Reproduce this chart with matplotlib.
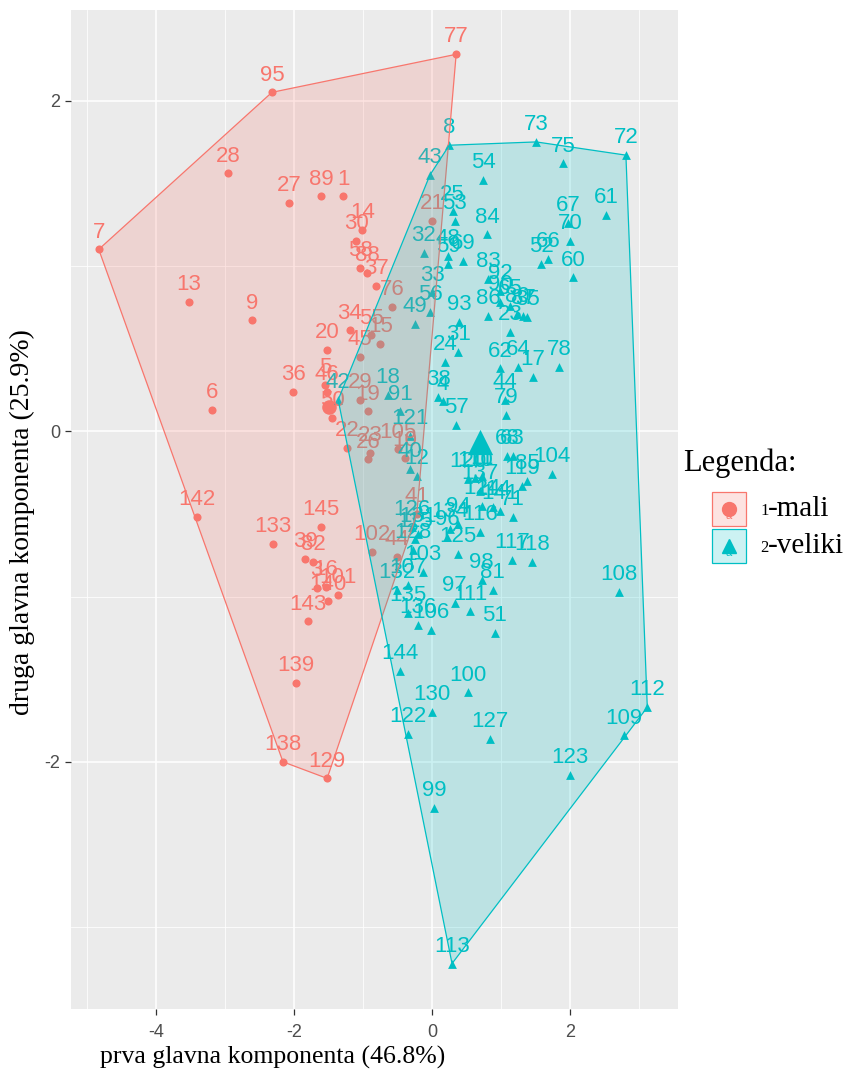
import matplotlib
matplotlib.use("Agg")
import matplotlib.pyplot as plt
import numpy as np
from matplotlib.patches import Polygon, Rectangle
from matplotlib.lines import Line2D

plt.rcParams["axes.unicode_minus"] = False

# PCA scores, group 1 (mali)
ids_mali = [1, 7, 13, 14, 30, 58, 88, 37, 76, 27, 28, 89, 95, 77, 9, 21, 34, 20, 55, 45,
            15, 6, 36, 5, 46, 50, 29, 19, 22, 23, 26, 105, 10, 41, 102, 44, 142, 133, 145, 39,
            82, 3, 16, 140, 101, 143, 139, 138, 129]
pc1_mali = [-1.29, -4.83, -3.52, -1.01, -1.10, -1.04, -0.94, -0.81, -0.58, -2.07, -2.96, -1.61, -2.32, 0.35, -2.61, 0.00, -1.19, -1.52, -0.88, -1.04,
            -0.75, -3.19, -2.01, -1.55, -1.52, -1.45, -1.04, -0.93, -1.23, -0.90, -0.93, -0.49, -0.39, -0.22, -0.87, -0.51, -3.41, -2.30, -1.61, -1.84,
            -1.72, -1.67, -1.54, -1.51, -1.36, -1.80, -1.97, -2.16, -1.52]
pc2_mali = [1.42, 1.10, 0.78, 1.22, 1.15, 0.99, 0.96, 0.88, 0.75, 1.38, 1.56, 1.42, 2.05, 2.28, 0.67, 1.27, 0.61, 0.49, 0.58, 0.45,
            0.53, 0.13, 0.24, 0.28, 0.24, 0.08, 0.19, 0.12, -0.10, -0.13, -0.17, -0.11, -0.16, -0.50, -0.73, -0.76, -0.52, -0.68, -0.58, -0.77,
            -0.79, -0.95, -0.94, -1.03, -0.99, -1.15, -1.52, -2.00, -2.10]

# PCA scores, group 2 (veliki)
ids_veliki = [8, 73, 75, 72, 43, 54, 61, 67, 70, 25, 53, 84, 32, 48, 59, 69, 66, 52, 60, 83,
              92, 33, 56, 49, 93, 86, 90, 65, 80, 87, 35, 31, 24, 23, 62, 64, 17, 78, 38, 4,
              44, 79, 57, 68, 63, 85, 104, 120, 110, 11, 119, 137, 124, 114, 141, 71, 134, 94, 96, 126,
              115, 131, 128, 116, 125, 98, 81, 117, 118, 103, 132, 107, 97, 111, 135, 136, 106, 51, 108, 144,
              100, 130, 122, 127, 112, 109, 123, 99, 113, 18, 91, 121, 40, 12, 42]
pc1_veliki = [0.25, 1.51, 1.90, 2.81, -0.03, 0.74, 2.52, 1.97, 2.00, 0.30, 0.33, 0.80, -0.12, 0.23, 0.23, 0.45, 1.68, 1.58, 2.04, 0.81,
              0.99, 0.00, -0.03, -0.25, 0.39, 0.81, 0.99, 1.13, 1.23, 1.32, 1.38, 0.38, 0.19, 1.13, 0.99, 1.25, 1.46, 1.84, 0.09, 0.16,
              1.06, 1.07, 0.35, 1.09, 1.17, 1.38, 1.74, 0.52, 0.62, 0.72, 1.30, 0.70, 0.72, 0.88, 0.99, 1.17, 0.26, 0.38, 0.22, -0.29,
              -0.25, -0.20, -0.28, 0.70, 0.38, 0.72, 0.88, 1.16, 1.45, -0.13, -0.51, -0.35, 0.33, 0.55, -0.35, -0.20, -0.01, 0.91, 2.71, -0.46,
              0.52, 0.00, -0.35, 0.84, 3.12, 2.78, 2.00, 0.03, 0.29, -0.64, -0.46, -0.32, -0.32, -0.22, -1.36]
pc2_veliki = [1.73, 1.75, 1.62, 1.67, 1.55, 1.52, 1.31, 1.26, 1.15, 1.33, 1.27, 1.19, 1.08, 1.06, 1.01, 1.03, 1.04, 1.01, 0.93, 0.92,
              0.85, 0.84, 0.72, 0.65, 0.66, 0.70, 0.78, 0.76, 0.71, 0.70, 0.69, 0.48, 0.42, 0.60, 0.38, 0.39, 0.33, 0.39, 0.21, 0.18,
              0.19, 0.10, 0.04, -0.15, -0.15, -0.30, -0.26, -0.29, -0.28, -0.27, -0.33, -0.36, -0.45, -0.46, -0.48, -0.52, -0.59, -0.56, -0.64, -0.58,
              -0.65, -0.62, -0.72, -0.61, -0.74, -0.90, -0.96, -0.78, -0.79, -0.85, -0.96, -0.93, -1.04, -1.09, -1.10, -1.17, -1.20, -1.22, -0.97, -1.45,
              -1.58, -1.70, -1.83, -1.86, -1.67, -1.84, -2.08, -2.28, -3.22, 0.22, 0.12, -0.03, -0.23, -0.27, 0.19]

RED = "#F8766D"
TEAL = "#00BFC4"


def hull(xs, ys):
    pts = sorted(set(zip(xs, ys)))
    def cross(o, a, b):
        return (a[0]-o[0])*(b[1]-o[1]) - (a[1]-o[1])*(b[0]-o[0])
    lower, upper = [], []
    for p in pts:
        while len(lower) >= 2 and cross(lower[-2], lower[-1], p) <= 0:
            lower.pop()
        lower.append(p)
    for p in reversed(pts):
        while len(upper) >= 2 and cross(upper[-2], upper[-1], p) <= 0:
            upper.pop()
        upper.append(p)
    return np.array(lower[:-1] + upper[:-1])


W, H = 856, 1070
fig = plt.figure(figsize=(W/100, H/100), dpi=100)
L, R, T, B = 71, 678, 10, 1009
ax = fig.add_axes([L/W, 1-B/H, (R-L)/W, (B-T)/H])
ax.set_facecolor("#EBEBEB")
for s in ax.spines.values():
    s.set_visible(False)

ax.set_xlim(-5.232, 3.565)
ax.set_ylim(-3.495, 2.548)
ax.set_xticks([-4, -2, 0, 2])
ax.set_yticks([-2, 0, 2])
ax.set_xticks([-5, -3, -1, 1, 3], minor=True)
ax.set_yticks([-3, -1, 1], minor=True)
ax.grid(which="major", color="white", lw=1.1)
ax.grid(which="minor", color="white", lw=0.55)
ax.set_axisbelow(True)
ax.tick_params(which="major", length=4, width=0.9, color="#333333",
               labelsize=13, labelcolor="#4D4D4D")
ax.tick_params(axis="x", which="major", pad=7)
ax.tick_params(which="minor", length=0)
for t in ax.get_xticklabels() + ax.get_yticklabels():
    t.set_family("Liberation Sans")

# (ids, pc1, pc2, colour, marker, point size, mean size)
groups = [(ids_mali, pc1_mali, pc2_mali, RED, "o", 34, 110),
          (ids_veliki, pc1_veliki, pc2_veliki, TEAL, "^", 40, 330)]

for ids, xs, ys, col, mk, sz, msz in groups:
    ax.scatter(xs, ys, s=sz, marker=mk, color=col, lw=0, zorder=2)
    ax.scatter([np.mean(xs)], [np.mean(ys)], s=msz, marker=mk, color=col, lw=0, zorder=2)
    for i, x, y in zip(ids, xs, ys):
        ax.annotate(str(i), (x, y), xytext=(0, 8.5), textcoords="offset points",
                    ha="center", va="baseline", color=col, fontsize=16,
                    family="Liberation Sans", zorder=3)
    hp = hull(xs, ys)
    ax.add_patch(Polygon(hp, closed=True, facecolor=col, alpha=0.2, lw=0, zorder=4))
    ax.add_patch(Polygon(hp, closed=True, facecolor="none", edgecolor=col, lw=0.9, zorder=4))

fig.text(273/W, 1-1057/H, "prva glavna komponenta (46.8%)", ha="center", va="center",
         family="Liberation Serif", fontsize=18.5)
fig.text(22/W, 1-522/H, "druga glavna komponenta (25.9%)", ha="center", va="center",
         rotation=90, family="Liberation Serif", fontsize=20)

# legend
def px(x, y):
    return x/W, 1-y/H

fig.text(*px(683, 463), "Legenda:", ha="left", va="center", family="Liberation Serif", fontsize=22)
for (y0, col, mk, num, name) in [(492, RED, "o", "1", "-mali"), (529, TEAL, "^", "2", "-veliki")]:
    fig.add_artist(Rectangle(px(712, y0+34), 34/W, 34/H, transform=fig.transFigure,
                             facecolor=col, alpha=0.2, lw=0))
    fig.add_artist(Rectangle(px(712, y0+34), 34/W, 34/H, transform=fig.transFigure,
                             facecolor="none", edgecolor=col, lw=0.9))
    fig.text(*px(729, y0+24), "a", ha="center", va="center", color=col, fontsize=8,
             family="Liberation Sans")
    fig.add_artist(Line2D([729/W], [1-(y0+17)/H], marker=mk, markersize=10, color=col,
                          lw=0, transform=fig.transFigure))
    fig.text(*px(760, y0+19), num, ha="left", va="center", family="Liberation Serif", fontsize=12)
    fig.text(*px(768, y0+17), name, ha="left", va="center", family="Liberation Serif", fontsize=21)

fig.savefig("out.png", dpi=100)
